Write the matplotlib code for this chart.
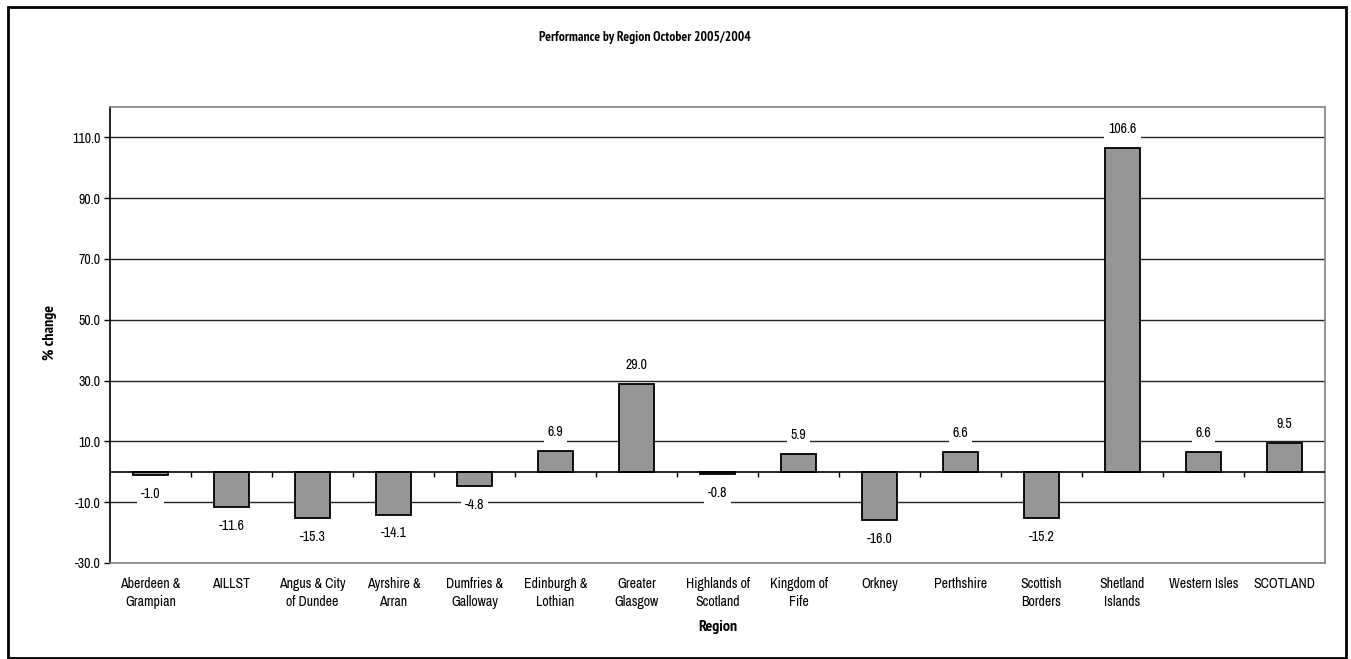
import matplotlib
matplotlib.use("Agg")
import matplotlib.pyplot as plt
from matplotlib.patches import Rectangle
from matplotlib import font_manager

regions = ["Aberdeen & Grampian", "AILLST", "Angus & City of Dundee", "Ayrshire & Arran",
           "Dumfries & Galloway", "Edinburgh & Lothian", "Greater Glasgow",
           "Highlands of Scotland", "Kingdom of Fife", "Orkney", "Perthshire",
           "Scottish Borders", "Shetland Islands", "Western Isles", "SCOTLAND"]
tick_labels = ["Aberdeen &\nGrampian", "AILLST", "Angus & City\nof Dundee", "Ayrshire &\nArran",
               "Dumfries &\nGalloway", "Edinburgh &\nLothian", "Greater\nGlasgow",
               "Highlands of\nScotland", "Kingdom of\nFife", "Orkney", "Perthshire",
               "Scottish\nBorders", "Shetland\nIslands", "Western Isles", "SCOTLAND"]
pct_change = [-1.0, -11.6, -15.3, -14.1, -4.8, 6.9, 29.0, -0.8, 5.9, -16.0, 6.6, -15.2, 106.6, 6.6, 9.5]
y_ticks = [-30, -10, 10, 30, 50, 70, 90, 110]

weights = {}
for f in font_manager.fontManager.ttflist:
    if f.style == "normal":
        w = f.weight if isinstance(f.weight, int) else 400
        weights.setdefault(f.name, set()).add(w)

prefs = ["Arial Narrow", "Liberation Sans Narrow", "Archivo Narrow", "PT Sans Narrow",
         "Roboto Condensed", "Pragati Narrow", "IBM Plex Sans Condensed", "Open Sans Condensed",
         "Liberation Sans", "DejaVu Sans"]
reg = [f for f in prefs if f in weights]
bold = [f for f in prefs if f in weights and any(w >= 700 for w in weights[f])]
reg_font = reg[0]
bold_font = bold[0]
narrow = reg_font not in ("Liberation Sans", "DejaVu Sans")
bnarrow = bold_font not in ("Liberation Sans", "DejaVu Sans")
plt.rcParams['font.family'] = [reg_font, "DejaVu Sans"]

fs = 10 if narrow else 8.6
fs_title = 9.7 if bnarrow else 8.2
fs_axlab = 11.5 if bnarrow else 9.5

W, H = 1351, 659
fig = plt.figure(figsize=(W / 100, H / 100), dpi=100)
fig.patch.set_facecolor("white")

# outer chart border
fig.add_artist(Rectangle((8 / W, 1 - 658 / H), (1346 - 8) / W, (658 - 7) / H,
                         transform=fig.transFigure, fill=False, edgecolor="black", linewidth=2))

ax = fig.add_axes([110 / W, 1 - 563 / H, (1325 - 110) / W, (563 - 107) / H])
n = len(pct_change)
x = list(range(n))
ax.set_xlim(-0.5, n - 0.5)
ax.set_ylim(-30, 120)

# gridlines
for yv in y_ticks[1:]:
    ax.axhline(yv, color="#222222", linewidth=1.0, zorder=1)

ax.bar(x, pct_change, width=0.42, color="#969696", edgecolor="black", linewidth=1.3, zorder=3)

# zero axis with category tick marks
ax.axhline(0, color="black", linewidth=1.2, zorder=4)
ax.vlines([i + 0.5 for i in range(n - 1)], -1.6, 0, color="black", linewidth=1, zorder=4)

for xi, v in zip(x, pct_change):
    off = 13.5 if v >= 0 else -13.5
    ax.annotate(f"{v:.1f}", (xi, v), xytext=(0, off), textcoords="offset points",
                ha="center", va="center", fontsize=fs, color="black", zorder=5,
                bbox=dict(boxstyle="square,pad=0.3", facecolor="white", edgecolor="none"))

ax.set_yticks(y_ticks)
ax.set_yticklabels([f"{v:.1f}" for v in y_ticks], fontsize=fs)
ax.set_xticks(x)
ax.set_xticklabels(tick_labels, fontsize=fs, linespacing=1.35)
ax.tick_params(axis="x", length=0, pad=10)
ax.tick_params(axis="y", length=4, width=1, direction="out", color="black", pad=3)

for s in ["top", "right", "bottom"]:
    ax.spines[s].set_color("#808080")
    ax.spines[s].set_linewidth(1.2)
ax.spines["left"].set_color("black")
ax.spines["left"].set_linewidth(1.2)

bfam = [bold_font, "DejaVu Sans"]
fig.text(645 / W, 1 - 38 / H, "Performance by Region October 2005/2004", ha="center", va="center",
         fontsize=fs_title, fontweight="bold", family=bfam)
fig.text(50 / W, 1 - 333 / H, "% change", ha="center", va="center", rotation=90,
         fontsize=fs_axlab, fontweight="bold", family=bfam)
fig.text(718 / W, 1 - 627 / H, "Region", ha="center", va="center",
         fontsize=fs_axlab, fontweight="bold", family=bfam)

fig.savefig("out.png", dpi=100, facecolor="white")
